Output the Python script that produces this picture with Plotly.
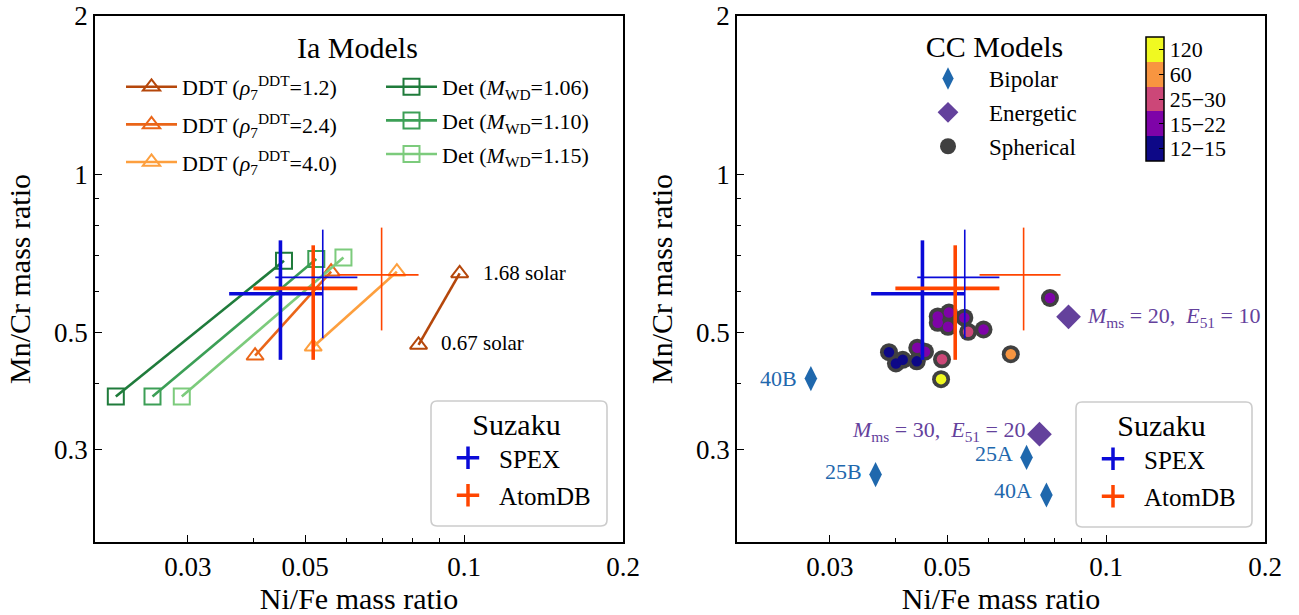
import numpy as np
import plotly.graph_objects as go

# ---------------- data ----------------
# Ia models (Ni/Fe, Mn/Cr) for 0.67 solar and 1.68 solar metallicity
ddt12_ni = [0.0820, 0.0981]; ddt12_mn = [0.474, 0.648]
ddt24_ni = [0.0402, 0.0560]; ddt24_mn = [0.452, 0.653]
ddt40_ni = [0.0518, 0.0746]; ddt40_mn = [0.470, 0.653]
det106_ni = [0.0219, 0.0456]; det106_mn = [0.378, 0.685]
det110_ni = [0.0257, 0.0525]; det110_mn = [0.378, 0.690]
det115_ni = [0.0292, 0.0591]; det115_mn = [0.378, 0.695]

# Suzaku measurements (two analyses each: thick / thin)
spex_ni = [0.0449, 0.0540]; spex_ni_lo = [0.0359, 0.0439]; spex_ni_hi = [0.0540, 0.0628]
spex_mn = [0.593, 0.637];   spex_mn_lo = [0.444, 0.488];   spex_mn_hi = [0.749, 0.785]
atom_ni = [0.0518, 0.0698]; atom_ni_lo = [0.0399, 0.0576]; atom_ni_hi = [0.0628, 0.0820]
atom_mn = [0.607, 0.644];   atom_mn_lo = [0.444, 0.505];   atom_mn_hi = [0.733, 0.792]

# CC models
bip_ni = [0.0276, 0.0366, 0.0707, 0.0771]
bip_mn = [0.409, 0.2687, 0.2896, 0.2457]
bip_lbl = ["40B", "25B", "25A", "40A"]
ene_ni = [0.0849, 0.0748]
ene_mn = [0.536, 0.3206]
ene_lbl = ["<i>M</i><sub>ms</sub> = 20,  <i>E</i><sub>51</sub> = 10",
           "<i>M</i><sub>ms</sub> = 30,  <i>E</i><sub>51</sub> = 20"]
sph_ni = [0.0783, 0.0480, 0.0504, 0.0480, 0.0502, 0.0539, 0.0548, 0.0586, 0.0660,
          0.0487, 0.0489, 0.0439, 0.0454, 0.0388, 0.0400, 0.0412, 0.0438]
sph_mn = [0.582, 0.537, 0.546, 0.522, 0.513, 0.534, 0.502, 0.507, 0.455,
          0.408, 0.445, 0.468, 0.460, 0.459, 0.437, 0.444, 0.441]
sph_bin = [1, 1, 1, 1, 1, 1, 2, 1, 3, 4, 2, 1, 1, 0, 0, 0, 0]
mass_bins = ["12\u221215", "15\u221222", "25\u221230", "60", "120"]
mass_colors = ["#0d0887", "#7e03a8", "#cc4778", "#f89540", "#f0f921"]

x_ticks = [0.03, 0.05, 0.1, 0.2]
x_minor = [0.04, 0.06, 0.07, 0.08, 0.09]
y_ticks = [0.3, 0.5, 1, 2]
y_minor = [0.4, 0.6, 0.7, 0.8, 0.9]

# ---------------- layout helpers ----------------
W, H = 1299, 615
ML, MR, MT, MB = 95, 34, 16, 73
PW, PH = W - ML - MR, H - MT - MB
def PX(px): return (px - ML) / PW
def PY(py): return 1 - (py - MT) / PH

FONT = "Liberation Serif"
SPEX_C = "#0a0ad8"
ATOM_C = "#ff4500"
BIP_C = "#1f68ad"
ENE_C = "#64419c"
EDGE_C = "#404040"

fig = go.Figure()

# ---------------- left panel: Ia models ----------------
ia_models = [
    ("DDT (<i>ρ</i><sub>7</sub><sup>DDT</sup>=1.2)", ddt12_ni, ddt12_mn, "#b5470b", "triangle-up-open", "legend"),
    ("DDT (<i>ρ</i><sub>7</sub><sup>DDT</sup>=2.4)", ddt24_ni, ddt24_mn, "#ea6518", "triangle-up-open", "legend"),
    ("DDT (<i>ρ</i><sub>7</sub><sup>DDT</sup>=4.0)", ddt40_ni, ddt40_mn, "#fd9f3e", "triangle-up-open", "legend"),
    ("Det (<i>M</i><sub>WD</sub>=1.06)", det106_ni, det106_mn, "#1f7b3b", "square-open", "legend2"),
    ("Det (<i>M</i><sub>WD</sub>=1.10)", det110_ni, det110_mn, "#3c9f56", "square-open", "legend2"),
    ("Det (<i>M</i><sub>WD</sub>=1.15)", det115_ni, det115_mn, "#7ccb7c", "square-open", "legend2"),
]
for k, (name, xs, ys, col, sym, lg) in enumerate(ia_models):
    fig.add_trace(go.Scatter(
        x=xs, y=ys, mode="lines+markers", name=name, legend=lg, legendgroup=f"ia{k}",
        line=dict(color=col, width=2.6),
        marker=dict(symbol=sym, size=15 if "triangle" in sym else 16, color=col,
                    line=dict(color=col, width=2)),
        xaxis="x", yaxis="y"))

def add_suzaku(xa, ya, lg):
    for i in range(2):
        for xs, lo, hi, ys, ylo, yhi, col in [
            (spex_ni, spex_ni_lo, spex_ni_hi, spex_mn, spex_mn_lo, spex_mn_hi, SPEX_C),
            (atom_ni, atom_ni_lo, atom_ni_hi, atom_mn, atom_mn_lo, atom_mn_hi, ATOM_C)]:
            th = 3.6 if i == 0 else 1.6
            fig.add_trace(go.Scatter(
                x=[xs[i]], y=[ys[i]], mode="markers", showlegend=False,
                marker=dict(size=0.1, color=col),
                error_x=dict(type="data", symmetric=False, array=[hi[i] - xs[i]],
                             arrayminus=[xs[i] - lo[i]], color=col, thickness=th, width=0),
                error_y=dict(type="data", symmetric=False, array=[yhi[i] - ys[i]],
                             arrayminus=[ys[i] - ylo[i]], color=col, thickness=th, width=0),
                xaxis=xa, yaxis=ya, hoverinfo="skip"))
    for name, col in [("SPEX", SPEX_C), ("AtomDB", ATOM_C)]:
        fig.add_trace(go.Scatter(
            x=[None], y=[None], mode="markers", name=name, legend=lg,
            legendgroup=lg + name,
            marker=dict(symbol="cross-thin", size=16, color=col, line=dict(color=col, width=3.5)),
            xaxis=xa, yaxis=ya))

add_suzaku("x", "y", "legend3")

# ---------------- right panel: CC models ----------------
fig.add_trace(go.Scatter(
    x=bip_ni, y=bip_mn, mode="markers", name="Bipolar", legend="legend5", legendgroup="cc1",
    marker=dict(symbol="diamond-tall", size=18, color=BIP_C, line=dict(width=0)),
    xaxis="x2", yaxis="y2"))
fig.add_trace(go.Scatter(
    x=ene_ni, y=ene_mn, mode="markers", name="Energetic", legend="legend5", legendgroup="cc2",
    marker=dict(symbol="diamond", size=19, color=ENE_C, line=dict(width=0)),
    xaxis="x2", yaxis="y2"))
fig.add_trace(go.Scatter(
    x=sph_ni, y=sph_mn, mode="markers", name="Spherical", legend="legend5", legendgroup="cc3",
    marker=dict(symbol="circle", size=18, color=EDGE_C, line=dict(width=0)),
    xaxis="x2", yaxis="y2"))
nb = len(mass_bins)
cscale = []
for k, c in enumerate(mass_colors):
    cscale += [[k / nb, c], [(k + 1) / nb, c]]
fig.add_trace(go.Scatter(
    x=sph_ni, y=sph_mn, mode="markers", showlegend=False,
    marker=dict(symbol="circle", size=10.5, color=sph_bin, colorscale=cscale,
                cmin=-0.5, cmax=nb - 0.5, line=dict(width=0),
                colorbar=dict(
                    x=PX(1146), xanchor="left", xpad=0, ypad=0,
                    y=PY(99), yanchor="middle", len=124, lenmode="pixels",
                    thickness=18, outlinewidth=1.5, outlinecolor="black",
                    tickvals=list(range(nb)), ticktext=mass_bins,
                    ticks="inside", ticklen=5, tickcolor="black", tickwidth=1.2,
                    tickfont=dict(family=FONT, size=22, color="black"))),
    xaxis="x2", yaxis="y2"))

add_suzaku("x2", "y2", "legend4")

# ---------------- axes ----------------
def axis_common(title, tsize):
    return dict(
        type="log", showgrid=False, zeroline=False,
        showline=True, linecolor="black", linewidth=1.5, mirror=True,
        ticks="inside", ticklen=7, tickwidth=1.3, tickcolor="black",
        ticklabeloverflow="allow",
        tickfont=dict(family=FONT, size=tsize, color="black"),
        title=dict(text=title, font=dict(family=FONT, size=30, color="black")))

xa = axis_common("Ni/Fe mass ratio", 27)
xa.update(range=[np.log10(0.02), np.log10(0.2)], tickvals=x_ticks,
          ticktext=[str(v) for v in x_ticks],
          minor=dict(tickvals=x_minor, ticks="inside", ticklen=4, tickcolor="black", tickwidth=1.1))
ya = axis_common("Mn/Cr mass ratio", 27)
ya.update(range=[np.log10(0.2), np.log10(2)], tickvals=y_ticks,
          ticktext=[str(v) for v in y_ticks],
          minor=dict(tickvals=y_minor, ticks="inside", ticklen=4, tickcolor="black", tickwidth=1.1))

d1 = [0, PX(623)]
d2 = [PX(737), 1]
fig.update_layout(
    xaxis=dict(xa, domain=d1, anchor="y"),
    yaxis=dict(ya, domain=[0, 1], anchor="x"),
    xaxis2=dict(xa, domain=d2, anchor="y2"),
    yaxis2=dict(ya, domain=[0, 1], anchor="x2"),
)

leg_font = dict(family=FONT, size=22, color="black")
suz_leg = dict(font=dict(family=FONT, size=25, color="black"),
               title=dict(text="Suzaku", side="top center",
                          font=dict(family=FONT, size=30, color="black")),
               bgcolor="rgba(0,0,0,0)", borderwidth=0, itemwidth=52,
               traceorder="grouped", tracegroupgap=2, xanchor="left", yanchor="top")
fig.update_layout(
    width=W, height=H,
    margin=dict(l=ML, r=MR, t=MT, b=MB, autoexpand=False),
    paper_bgcolor="white", plot_bgcolor="white",
    font=dict(family=FONT, color="black"),
    legend=dict(x=PX(121), y=PY(66), xanchor="left", yanchor="top",
                font=leg_font, bgcolor="rgba(0,0,0,0)", itemwidth=51,
                traceorder="grouped", tracegroupgap=6),
    legend2=dict(x=PX(381), y=PY(66), xanchor="left", yanchor="top",
                 font=leg_font, bgcolor="rgba(0,0,0,0)", itemwidth=51,
                 traceorder="grouped", tracegroupgap=2),
    legend3=dict(suz_leg, x=PX(437), y=PY(396)),
    legend4=dict(suz_leg, x=PX(1082), y=PY(397)),
    legend5=dict(x=PX(907), y=PY(18), xanchor="left", yanchor="top",
                 font=dict(family=FONT, size=23, color="black"), bgcolor="rgba(0,0,0,0)",
                 itemwidth=72, traceorder="grouped", tracegroupgap=1,
                 title=dict(text="CC Models", side="top center",
                            font=dict(family=FONT, size=30, color="black"))),
)

# rounded frames of the Suzaku legends
def rrect(x0, y0, x1, y1, r=6):
    fx = lambda v: PX(v)
    fy = lambda v: PY(v)
    return (f"M{fx(x0 + r)},{fy(y0)} L{fx(x1 - r)},{fy(y0)} Q{fx(x1)},{fy(y0)} {fx(x1)},{fy(y0 + r)} "
            f"L{fx(x1)},{fy(y1 - r)} Q{fx(x1)},{fy(y1)} {fx(x1 - r)},{fy(y1)} "
            f"L{fx(x0 + r)},{fy(y1)} Q{fx(x0)},{fy(y1)} {fx(x0)},{fy(y1 - r)} "
            f"L{fx(x0)},{fy(y0 + r)} Q{fx(x0)},{fy(y0)} {fx(x0 + r)},{fy(y0)} Z")
shapes = [dict(type="path", path=rrect(431, 401, 607, 526), xref="paper", yref="paper",
               line=dict(color="#cccccc", width=1.6), fillcolor="white", layer="below"),
          dict(type="path", path=rrect(1076, 402, 1252, 527), xref="paper", yref="paper",
               line=dict(color="#cccccc", width=1.6), fillcolor="white", layer="below")]
fig.update_layout(shapes=shapes)

ann = [dict(text="Ia Models", x=PX(357), y=PY(48), xref="paper", yref="paper",
            xanchor="center", yanchor="middle", showarrow=False,
            font=dict(family=FONT, size=30, color="black"))]
ann.append(dict(text="1.68 solar", x=np.log10(ddt12_ni[1]), y=np.log10(ddt12_mn[1]),
                xref="x", yref="y", xanchor="left", yanchor="middle", xshift=21, yshift=0,
                showarrow=False, font=dict(family=FONT, size=21, color="black")))
ann.append(dict(text="0.67 solar", x=np.log10(ddt12_ni[0]), y=np.log10(ddt12_mn[0]),
                xref="x", yref="y", xanchor="left", yanchor="middle", xshift=20, yshift=2,
                showarrow=False, font=dict(family=FONT, size=21, color="black")))
bip_shift = [(-12, 0), (-12, 3), (-12, 4), (-12, 4)]
for xv, yv, t, (dx, dy) in zip(bip_ni, bip_mn, bip_lbl, bip_shift):
    ann.append(dict(text=t, x=np.log10(xv), y=np.log10(yv), xref="x2", yref="y2",
                    xanchor="right", yanchor="middle", xshift=dx, yshift=dy, showarrow=False,
                    font=dict(family=FONT, size=22, color=BIP_C)))
ene_pos = [("left", 16, 0), ("right", -12, 3)]
for xv, yv, t, (anc, dx, dy) in zip(ene_ni, ene_mn, ene_lbl, ene_pos):
    ann.append(dict(text=t, x=np.log10(xv), y=np.log10(yv), xref="x2", yref="y2",
                    xanchor=anc, yanchor="middle", xshift=dx, yshift=dy, showarrow=False,
                    font=dict(family=FONT, size=22, color=ENE_C)))
fig.update_layout(annotations=ann)

fig.write_html("out.html")
